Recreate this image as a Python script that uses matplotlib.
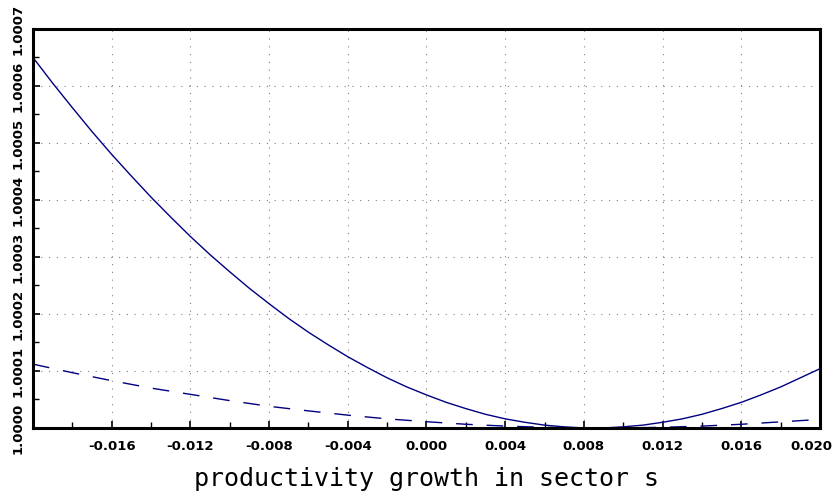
import numpy as np
import matplotlib.pyplot as plt
import matplotlib.transforms as mtransforms
from matplotlib.ticker import MultipleLocator, FormatStrFormatter

# productivity growth in sector s
growth_fine = np.round(np.arange(-0.020, 0.0205, 0.001), 3)
growth_coarse = np.round(np.arange(-0.020, 0.0205, 0.002), 3)

# welfare ratio minus one, in units of 1e-6
solid_excess = [650, 605, 562, 520, 480, 442, 405, 370, 336, 304,
                274, 245, 218, 192, 168, 146, 125, 106, 88, 72,
                58, 45, 34, 24, 16, 10, 5, 2, 0, 0,
                2, 5, 10, 16, 24, 34, 45, 58, 72, 88,
                104]
dashed_excess = [112, 97, 83, 70, 59, 48, 38, 30, 22.5, 16,
                 11, 6.5, 3.3, 1.2, 0.1, 0.1, 1.2, 3.3, 6.5, 10.8,
                 15]

x_ticks = [-0.016, -0.012, -0.008, -0.004, 0.0, 0.004, 0.008, 0.012, 0.016, 0.020]

solid = 1.0 + np.array(solid_excess) * 1e-6
dashed = 1.0 + np.array(dashed_excess) * 1e-6

line_color = '#000080'

fig = plt.figure(figsize=(8.37, 4.98), dpi=100)
ax = fig.add_axes([0.0394, 0.1406, 0.9403, 0.8012])

ax.plot(growth_fine, solid, '-', color=line_color, lw=1.0)
ax.plot(growth_coarse, dashed, '--', color=line_color, lw=1.0, dashes=(12, 10))

ax.set_xlim(-0.020, 0.020)
ax.set_ylim(1.0, 1.0007)

ax.set_xticks(x_ticks)
ax.xaxis.set_minor_locator(MultipleLocator(0.002))
ax.yaxis.set_major_locator(MultipleLocator(0.0001))
ax.yaxis.set_minor_locator(MultipleLocator(0.00005))
ax.xaxis.set_major_formatter(FormatStrFormatter('%.3f'))
ax.yaxis.set_major_formatter(FormatStrFormatter('%.4f'))

ax.tick_params(which='both', direction='in', top=False, right=False)
ax.tick_params(which='major', length=5, width=1.2, labelsize=9.5)
ax.tick_params(axis='x', pad=9)
ax.tick_params(axis='y', pad=6)
ax.tick_params(which='minor', length=4, width=1.0)

for lab in ax.get_xticklabels() + ax.get_yticklabels():
    lab.set_family('DejaVu Sans')
    lab.set_weight('bold')
for lab in ax.get_yticklabels():
    lab.set_rotation(90)
    lab.set_va('center')

# pull the last x label back inside the figure
last = ax.get_xticklabels()[-1]
last.set_transform(last.get_transform() +
                   mtransforms.ScaledTranslation(-0.09, 0, fig.dpi_scale_trans))

for s in ax.spines.values():
    s.set_linewidth(2.2)

ax.grid(which='major', color='#808080', linestyle=(0, (1, 6)), lw=0.8)
ax.set_axisbelow(True)

ax.set_xlabel('productivity growth in sector s', family='DejaVu Sans Mono',
              fontsize=18, labelpad=10)

plt.savefig('out.png', dpi=100)
